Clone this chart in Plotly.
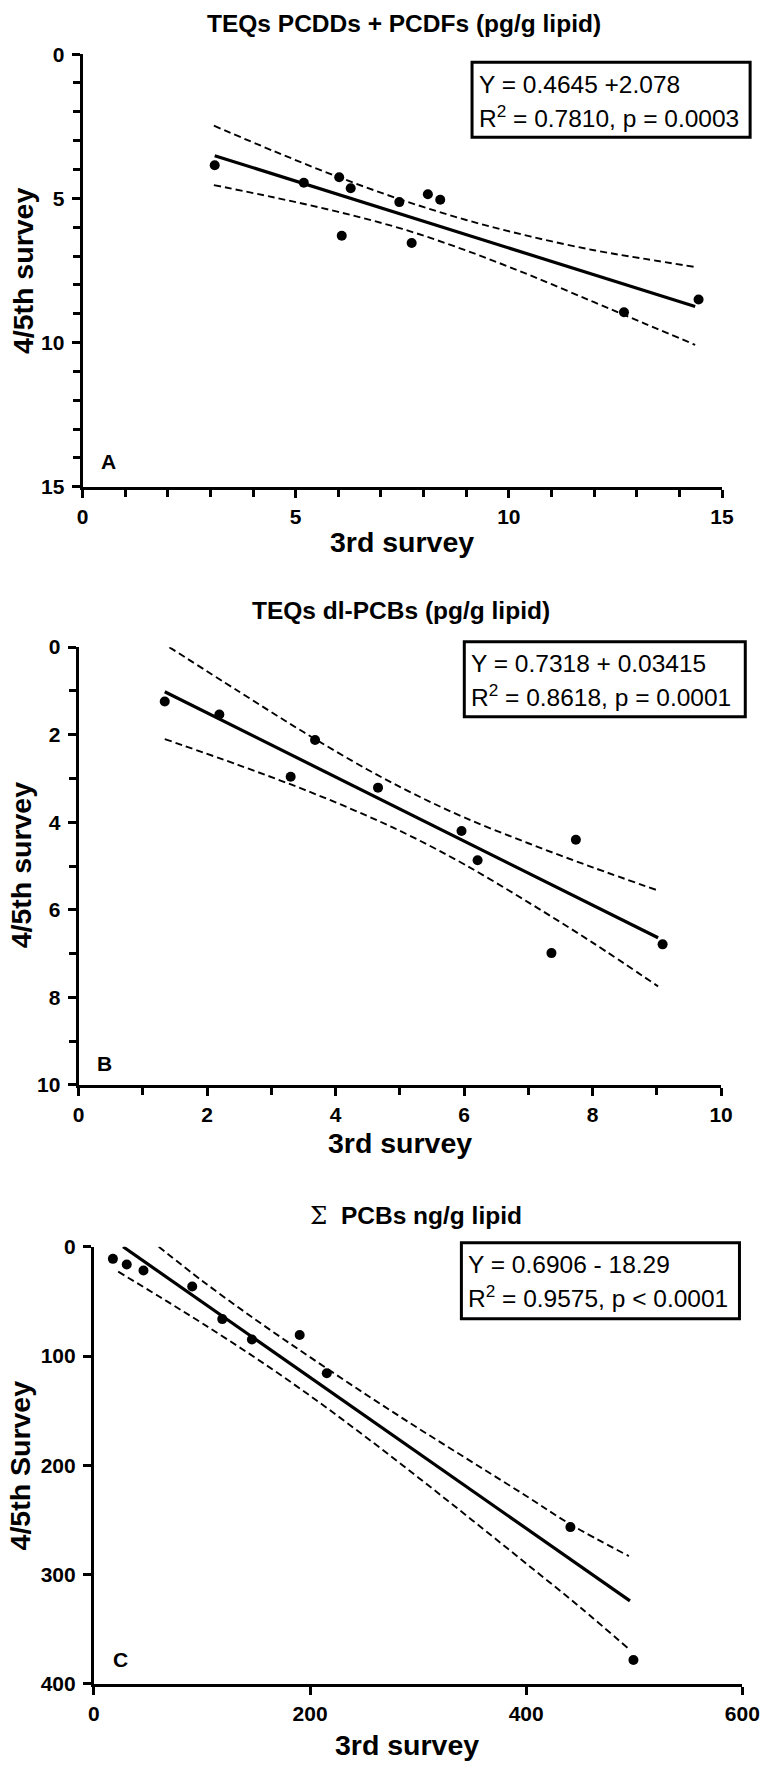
import plotly.graph_objects as go

# ---------------- data ----------------
# Panel A: TEQs PCDDs + PCDFs
A_x = [3.10, 5.19, 6.02, 6.29, 6.08, 7.43, 7.72, 8.10, 8.39, 12.70, 14.45]
A_y = [3.85, 4.46, 4.27, 4.65, 6.30, 5.13, 6.55, 4.86, 5.05, 8.95, 8.51]
A_fit_x = [3.10, 14.37]
A_fit_y = [3.52, 8.75]
A_ci_x = [3.08, 4.5, 6.0, 7.5, 9.0, 10.5, 12.0, 13.2, 14.37]
A_ci_upper = [2.48, 3.37, 4.26, 5.06, 5.75, 6.32, 6.80, 7.10, 7.38]
A_ci_lower = [4.54, 4.97, 5.47, 6.06, 6.81, 7.67, 8.60, 9.35, 10.08]
A_title = "TEQs PCDDs + PCDFs (pg/g lipid)"
A_eq = ["Y = 0.4645 +2.078", "R<sup>2</sup> = 0.7810, p = 0.0003"]

# Panel B: TEQs dl-PCBs
B_x = [1.34, 2.19, 3.30, 3.68, 4.66, 5.96, 6.21, 7.36, 7.74, 9.09]
B_y = [1.24, 1.54, 2.96, 2.12, 3.21, 4.20, 4.87, 6.99, 4.40, 6.79]
B_fit_x = [1.34, 9.02]
B_fit_y = [1.02, 6.64]
B_up_x = [1.41, 2.5, 3.5, 4.5, 5.2, 6.0, 7.0, 8.0, 9.02]
B_ci_upper = [0.0, 1.02, 1.94, 2.80, 3.34, 3.89, 4.48, 5.03, 5.56]
B_lo_x = [1.34, 2.5, 3.5, 4.5, 5.2, 6.0, 7.0, 8.0, 9.02]
B_ci_lower = [2.10, 2.70, 3.25, 3.86, 4.34, 4.96, 5.83, 6.75, 7.75]
B_title = "TEQs dl-PCBs (pg/g lipid)"
B_eq = ["Y = 0.7318 + 0.03415", "R<sup>2</sup> = 0.8618, p = 0.0001"]

# Panel C: sum PCBs
C_x = [17.6, 30.4, 45.9, 91.0, 118.8, 146.2, 190.4, 215.5, 440.9, 499.2]
C_y = [11.1, 16.2, 21.7, 36.3, 66.2, 84.8, 80.7, 115.8, 256.5, 378.0]
C_fit_x = [27, 496]
C_fit_y = [0, 324]
C_up_x = [60, 100, 150, 200, 250, 300, 350, 400, 441, 495]
C_ci_upper = [0, 31, 67, 101, 134, 166, 197, 228, 254, 283]
C_lo_x = [22.5, 60, 100, 150, 200, 250, 300, 350, 400, 450, 495]
C_ci_lower = [22.8, 45.3, 69.9, 102, 136.3, 172.9, 211, 250.1, 289.8, 329.9, 368]
C_title = "<span style=\"font-family:'DejaVu Serif';font-weight:normal\">\u03a3</span>  PCBs ng/g lipid"
C_eq = ["Y = 0.6906 - 18.29", "R<sup>2</sup> = 0.9575, p < 0.0001"]

X_TITLE = ["3rd survey", "3rd survey", "3rd survey"]
Y_TITLE = ["4/5th survey", "4/5th survey", "4/5th Survey"]
LETTERS = ["A", "B", "C"]

# ---------------- layout helpers ----------------
W, H = 772, 1770
FONT = "Liberation Sans, Arial, Helvetica, sans-serif"


def px_x(p):
    return p / W


def px_y(p):
    return 1 - p / H


fig = go.Figure()

panels = [
    dict(x=A_x, y=A_y, fx=A_fit_x, fy=A_fit_y, ux=A_ci_x, uy=A_ci_upper, lx=A_ci_x, ly=A_ci_lower,
         xdom=(79, 739), ydom=(42.7, 481), xr=[0, 15], yr=[15, 0], xd=5, yd=5, minor=1,
         title=A_title, tpos=(411, 12), eq=A_eq, box=(481, 768, 51, 127),
         xt=(409, 537), yt=(17, 262), let=(106, 455)),
    dict(x=B_x, y=B_y, fx=B_fit_x, fy=B_fit_y, ux=B_up_x, uy=B_ci_upper, lx=B_lo_x, ly=B_ci_lower,
         xdom=(75, 738), ydom=(643.5, 1087), xr=[0, 10], yr=[10, 0], xd=2, yd=2, minor=1,
         title=B_title, tpos=(408, 606.5), eq=B_eq, box=(473, 763, 638, 714),
         xt=(407, 1146), yt=(15, 865), let=(102, 1065)),
    dict(x=C_x, y=C_y, fx=C_fit_x, fy=C_fit_y, ux=C_up_x, uy=C_ci_upper, lx=C_lo_x, ly=C_ci_lower,
         xdom=(90.7, 760), ydom=(1251, 1694), xr=[0, 600], yr=[400, 0], xd=200, yd=100, minor=None,
         title=C_title, tpos=(423, 1219), eq=C_eq, box=(470, 757, 1247, 1324),
         xt=(414, 1756), yt=(14, 1473), let=(118, 1669)),
]

shapes = []
annotations = []
layout_axes = {}

for i, p in enumerate(panels):
    n = "" if i == 0 else str(i + 1)
    xa, ya = "x" + n, "y" + n
    dash_style = dict(color="black", width=1.9, dash="7px,4px")
    fig.add_trace(go.Scatter(x=p["ux"], y=p["uy"], mode="lines", line=dict(shape="spline", **dash_style),
                             xaxis=xa, yaxis=ya, showlegend=False, hoverinfo="skip"))
    fig.add_trace(go.Scatter(x=p["lx"], y=p["ly"], mode="lines", line=dict(shape="spline", **dash_style),
                             xaxis=xa, yaxis=ya, showlegend=False, hoverinfo="skip"))
    fig.add_trace(go.Scatter(x=p["fx"], y=p["fy"], mode="lines", line=dict(color="black", width=3.2),
                             xaxis=xa, yaxis=ya, showlegend=False))
    fig.add_trace(go.Scatter(x=p["x"], y=p["y"], mode="markers",
                             marker=dict(color="black", size=10, line=dict(width=0)),
                             xaxis=xa, yaxis=ya, showlegend=False))

    common = dict(showline=True, linecolor="black", linewidth=3, ticks="outside", ticklen=8,
                  tickwidth=3, tickcolor="black", showgrid=False, zeroline=False,
                  tickfont=dict(family=FONT, size=21, color="black", weight="bold"))
    xaxis = dict(common, domain=[px_x(p["xdom"][0]), px_x(p["xdom"][1])], range=p["xr"],
                 dtick=p["xd"], tick0=0, anchor=ya, ticklabelstandoff=1)
    yaxis = dict(common, domain=[px_y(p["ydom"][1]), px_y(p["ydom"][0])], range=p["yr"],
                 dtick=p["yd"], tick0=0, anchor=xa, ticklabelstandoff=3)
    if p["minor"]:
        mn = dict(ticks="outside", dtick=p["minor"], tick0=0, ticklen=7, tickwidth=3,
                  tickcolor="black", showgrid=False)
        xaxis["minor"] = mn
        yaxis["minor"] = mn
    layout_axes["xaxis" + n] = xaxis
    layout_axes["yaxis" + n] = yaxis

    # titles
    annotations.append(dict(text=p["title"], x=px_x(p["tpos"][0]), y=px_y(p["tpos"][1]),
                            xref="paper", yref="paper", showarrow=False, xanchor="center", yanchor="middle",
                            font=dict(family=FONT, size=24.5, color="black", weight="bold")))
    annotations.append(dict(text=X_TITLE[i], x=px_x(p["xt"][0]), y=px_y(p["xt"][1]),
                            xref="paper", yref="paper", showarrow=False, xanchor="center", yanchor="middle",
                            font=dict(family=FONT, size=28.5, color="black", weight="bold")))
    annotations.append(dict(text=Y_TITLE[i], x=px_x(p["yt"][0]), y=px_y(p["yt"][1]), textangle=-90,
                            xref="paper", yref="paper", showarrow=False, xanchor="center", yanchor="middle",
                            font=dict(family=FONT, size=28.5, color="black", weight="bold")))
    annotations.append(dict(text=LETTERS[i], x=px_x(p["let"][0]), y=px_y(p["let"][1]),
                            xref="paper", yref="paper", showarrow=False, xanchor="center", yanchor="middle",
                            font=dict(family=FONT, size=21, color="black", weight="bold")))
    # equation box
    bl, br, bt, bb = p["box"]
    shapes.append(dict(type="rect", xref="paper", yref="paper", x0=px_x(bl), x1=px_x(br),
                       y0=px_y(bb), y1=px_y(bt), line=dict(color="black", width=3), fillcolor="white",
                       layer="above"))
    for k, line in enumerate(p["eq"]):
        annotations.append(dict(text=line, x=px_x(bl + 5), y=px_y(bt + 22 + 32.5 * k),
                                xref="paper", yref="paper", showarrow=False, xanchor="left", yanchor="middle",
                                font=dict(family=FONT, size=24.5, color="black")))

fig.update_layout(width=W, height=H, margin=dict(l=0, r=0, t=0, b=0),
                  plot_bgcolor="white", paper_bgcolor="white",
                  shapes=shapes, annotations=annotations, showlegend=False, **layout_axes)

fig.write_html("out.html",
               config={"displayModeBar": False},
               post_script="document.body.style.margin='0';document.body.style.padding='0';"
                           "document.body.style.overflow='hidden';")
